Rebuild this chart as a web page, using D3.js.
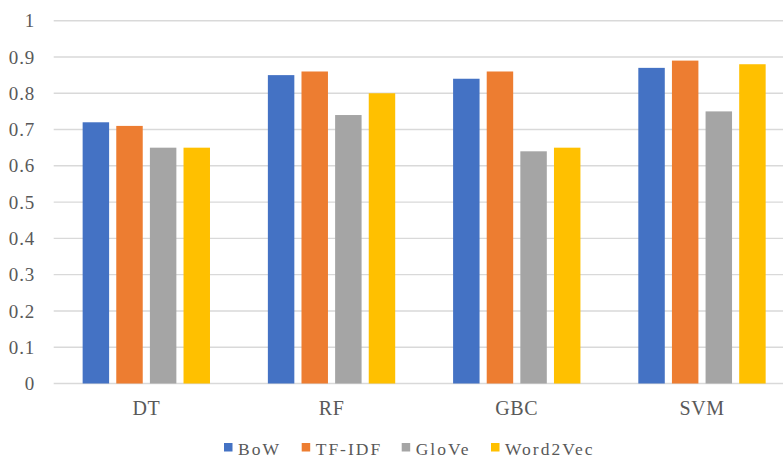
<!DOCTYPE html>
<html>
<head>
<meta charset="utf-8">
<script src="https://cdn.jsdelivr.net/npm/d3@7"></script>
<style>
  html, body { margin: 0; padding: 0; background: #fff; }
  svg { display: block; }
  text { font-family: "Liberation Serif", "Times New Roman", serif; fill: #595959; }
</style>
</head>
<body>
<svg id="chart" width="783" height="458"></svg>
<script>
// Classifier accuracy by feature representation
const categories = ["DT", "RF", "GBC", "SVM"];
const seriesNames = ["BoW", "TF-IDF", "GloVe", "Word2Vec"];
const bow      = [0.72, 0.85, 0.84, 0.87];
const tfidf    = [0.71, 0.86, 0.86, 0.89];
const glove    = [0.65, 0.74, 0.64, 0.75];
const word2vec = [0.65, 0.80, 0.65, 0.88];
const yTicks = [0, 0.1, 0.2, 0.3, 0.4, 0.5, 0.6, 0.7, 0.8, 0.9, 1];
const colors = ["#4472C4", "#ED7D31", "#A5A5A5", "#FFC000"];

const seriesValues = [bow, tfidf, glove, word2vec];

const svg = d3.select("#chart");
const W = 783, H = 458;
const plot = { left: 53.7, right: 794.6, top: 20.7, bottom: 383.5 };

const x0 = d3.scaleBand()
  .domain(categories)
  .range([plot.left, plot.right])
  .paddingInner(0.3125)
  .paddingOuter(0.15625);

const x1 = d3.scaleBand()
  .domain(seriesNames)
  .range([0, x0.bandwidth()])
  .paddingInner(0.213)
  .paddingOuter(0);

const y = d3.scaleLinear().domain([0, 1]).range([plot.bottom, plot.top]);

// gridlines
svg.append("g")
  .selectAll("line")
  .data(yTicks)
  .join("line")
  .attr("x1", plot.left)
  .attr("x2", W)
  .attr("y1", d => y(d))
  .attr("y2", d => y(d))
  .attr("stroke", "#D9D9D9")
  .attr("stroke-width", 1.4);

// y tick labels
const yAxis = d3.axisLeft(y).tickValues(yTicks).tickFormat(d3.format("~g")).tickSize(0).tickPadding(0);
const yg = svg.append("g").attr("transform", "translate(35,0)").call(yAxis);
yg.select(".domain").remove();
yg.selectAll("text")
  .attr("font-size", 19)
  .attr("letter-spacing", "0.8px")
  .attr("fill", "#595959")
  .style("font-family", "'Liberation Serif', 'Times New Roman', serif");

// bars
const groups = svg.append("g")
  .selectAll("g")
  .data(categories)
  .join("g")
  .attr("transform", d => `translate(${x0(d)},0)`);

groups.selectAll("rect")
  .data((c, i) => seriesNames.map((s, j) => ({ s, j, v: seriesValues[j][i] })))
  .join("rect")
  .attr("x", d => x1(d.s))
  .attr("width", x1.bandwidth())
  .attr("y", d => y(d.v))
  .attr("height", d => y(0) - y(d.v))
  .attr("fill", d => colors[d.j]);

// category labels
const xAxis = d3.axisBottom(x0).tickSize(0).tickPadding(0);
const xg = svg.append("g").attr("transform", "translate(0,415)").call(xAxis);
xg.select(".domain").remove();
xg.selectAll("text")
  .attr("dy", 0)
  .attr("font-size", 20)
  .attr("letter-spacing", "0.6px")
  .attr("fill", "#595959")
  .style("font-family", "'Liberation Serif', 'Times New Roman', serif");

// legend
const legendX = [224, 301.7, 401.7, 491];
const legend = svg.append("g")
  .selectAll("g")
  .data(seriesNames)
  .join("g")
  .attr("transform", (d, i) => `translate(${legendX[i]},0)`);
legend.append("rect")
  .attr("x", 0).attr("y", 443)
  .attr("width", 8.5).attr("height", 8.5)
  .attr("fill", (d, i) => colors[i]);
legend.append("text")
  .attr("x", 14)
  .attr("y", 454.5)
  .attr("font-size", 17.5)
  .attr("letter-spacing", "2px")
  .text(d => d);
</script>
</body>
</html>
